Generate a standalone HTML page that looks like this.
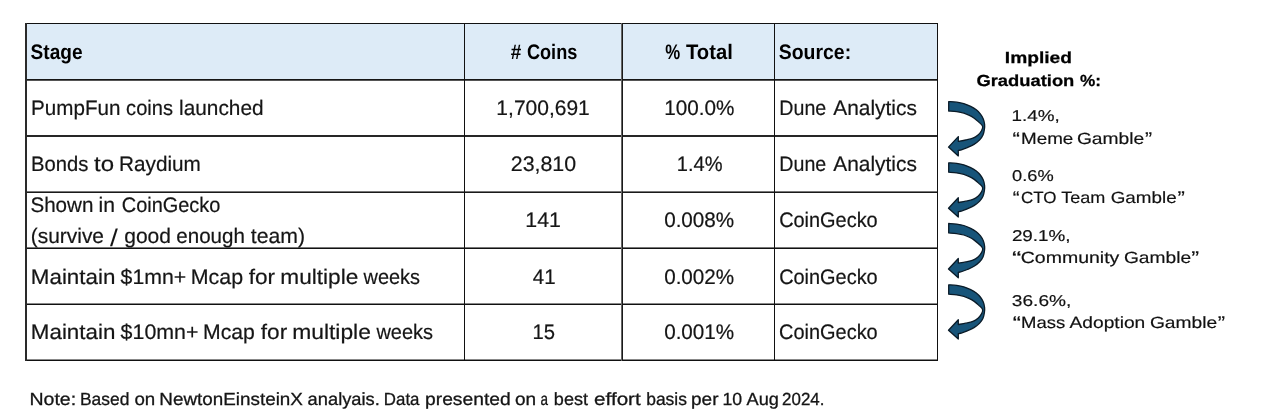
<!DOCTYPE html>
<html>
<head>
<meta charset="utf-8">
<title>PumpFun coin graduation funnel</title>
<style>
html,body{margin:0;padding:0;background:#fff;}
body{width:1268px;height:420px;overflow:hidden;}
svg{display:block;text-rendering:geometricPrecision;}
.t{font-family:"Liberation Sans",sans-serif;font-size:21px;fill:#151515;stroke:#151515;stroke-width:0.2px;}
.b{font-weight:bold;fill:#000;stroke:none;}
.r{font-family:"Liberation Sans",sans-serif;font-size:15.7px;fill:#111;stroke:#111;stroke-width:0.18px;}
.rg{font-size:16.3px;}
.rb{font-size:16px;fill:#000;stroke:#000;stroke-width:0.25px;}
.n{font-family:"Liberation Sans",sans-serif;font-size:17.6px;fill:#151515;stroke:#151515;stroke-width:0.3px;}
</style>
</head>
<body>
<svg width="1268" height="420" viewBox="0 0 1268 420">
<rect x="27" y="24" width="910" height="55" fill="#DDEBF7"/>
<rect x="25" y="23" width="913" height="1" fill="#111"/>
<rect x="25" y="79" width="913" height="1" fill="#151515"/>
<rect x="25" y="80" width="913" height="1" fill="#555"/>
<rect x="25" y="135" width="913" height="2" fill="#262626"/>
<rect x="25" y="191" width="913" height="1" fill="#777"/>
<rect x="25" y="192" width="913" height="1" fill="#1a1a1a"/>
<rect x="25" y="247" width="913" height="1" fill="#777"/>
<rect x="25" y="248" width="913" height="1" fill="#111"/>
<rect x="25" y="303" width="913" height="1" fill="#888"/>
<rect x="25" y="304" width="913" height="1" fill="#111"/>
<rect x="25" y="359" width="913" height="1" fill="#888"/>
<rect x="25" y="360" width="913" height="1" fill="#111"/>
<rect x="25" y="23" width="2" height="338" fill="#2a2a2a"/>
<rect x="464" y="23" width="1" height="338" fill="#111"/>
<rect x="621" y="23" width="1" height="338" fill="#666"/>
<rect x="622" y="23" width="1" height="338" fill="#1a1a1a"/>
<rect x="774" y="23" width="1" height="338" fill="#111"/>
<rect x="937" y="23" width="1" height="338" fill="#111"/>
<text class="t b" id="h1" y="58.5"><tspan x="30.59" textLength="51.96" lengthAdjust="spacingAndGlyphs">Stage</tspan></text>
<text class="t b" id="h2" y="58.5"><tspan x="510.64" textLength="10.55" lengthAdjust="spacingAndGlyphs">#</tspan> <tspan x="526.93" textLength="50.44" lengthAdjust="spacingAndGlyphs">Coins</tspan></text>
<text class="t b" id="h3" y="58.5"><tspan x="665.21" textLength="14.95" lengthAdjust="spacingAndGlyphs">%</tspan> <tspan x="686" textLength="46.78" lengthAdjust="spacingAndGlyphs">Total</tspan></text>
<text class="t b" id="h4" y="58.5"><tspan x="778.81" textLength="72.3" lengthAdjust="spacingAndGlyphs">Source:</tspan></text>
<text class="t" id="a1" y="115.2"><tspan x="31.05" textLength="89.34" lengthAdjust="spacingAndGlyphs">PumpFun</tspan> <tspan x="126.12" textLength="46.85" lengthAdjust="spacingAndGlyphs">coins</tspan> <tspan x="179.07" textLength="84.49" lengthAdjust="spacingAndGlyphs">launched</tspan></text>
<text class="t" id="b1" y="115.2"><tspan x="496.36" textLength="93.46" lengthAdjust="spacingAndGlyphs">1,700,691</tspan></text>
<text class="t" id="c1" y="115.2"><tspan x="664.25" textLength="70.17" lengthAdjust="spacingAndGlyphs">100.0%</tspan></text>
<text class="t" id="d1" y="115.2"><tspan x="779.33" textLength="46.88" lengthAdjust="spacingAndGlyphs">Dune</tspan> <tspan x="833.28" textLength="83.66" lengthAdjust="spacingAndGlyphs">Analytics</tspan></text>
<text class="t" id="a2" y="171.2"><tspan x="31.02" textLength="57.33" lengthAdjust="spacingAndGlyphs">Bonds</tspan> <tspan x="94" textLength="20.02" lengthAdjust="spacingAndGlyphs">to</tspan> <tspan x="119.02" textLength="81.84" lengthAdjust="spacingAndGlyphs">Raydium</tspan></text>
<text class="t" id="b2" y="171.2"><tspan x="510.78" textLength="65.35" lengthAdjust="spacingAndGlyphs">23,810</tspan></text>
<text class="t" id="c2" y="171.2"><tspan x="676.74" textLength="45.74" lengthAdjust="spacingAndGlyphs">1.4%</tspan></text>
<text class="t" id="d2" y="171.2"><tspan x="779.33" textLength="46.88" lengthAdjust="spacingAndGlyphs">Dune</tspan> <tspan x="833.28" textLength="83.66" lengthAdjust="spacingAndGlyphs">Analytics</tspan></text>
<text class="t" id="a3" y="212.4"><tspan x="30.42" textLength="63" lengthAdjust="spacingAndGlyphs">Shown</tspan> <tspan x="98.56" textLength="16.47" lengthAdjust="spacingAndGlyphs">in</tspan> <tspan x="121.79" textLength="98.61" lengthAdjust="spacingAndGlyphs">CoinGecko</tspan></text>
<text class="t" id="a3b" y="242.7"><tspan x="30.83" textLength="73.13" lengthAdjust="spacingAndGlyphs">(survive</tspan> <tspan x="110.11" style="font-size:24px;baseline-shift:-3.2px;stroke-width:0" textLength="7.87" lengthAdjust="spacingAndGlyphs">/</tspan> <tspan x="124.28" textLength="46.71" lengthAdjust="spacingAndGlyphs">good</tspan> <tspan x="176.27" textLength="68.65" lengthAdjust="spacingAndGlyphs">enough</tspan> <tspan x="250.75" textLength="54.23" lengthAdjust="spacingAndGlyphs">team)</tspan></text>
<text class="t" id="b3" y="226.9"><tspan x="525.36" textLength="35.56" lengthAdjust="spacingAndGlyphs">141</tspan></text>
<text class="t" id="c3" y="226.9"><tspan x="664.16" textLength="70.02" lengthAdjust="spacingAndGlyphs">0.008%</tspan></text>
<text class="t" id="d3" y="226.9"><tspan x="779.13" textLength="98.58" lengthAdjust="spacingAndGlyphs">CoinGecko</tspan></text>
<text class="t" id="a4" y="283.8"><tspan x="30.81" textLength="84.6" lengthAdjust="spacingAndGlyphs">Maintain</tspan> <tspan x="120.64" textLength="65.64" lengthAdjust="spacingAndGlyphs">$1mn+</tspan> <tspan x="190.81" textLength="52.31" lengthAdjust="spacingAndGlyphs">Mcap</tspan> <tspan x="248.76" textLength="26.39" lengthAdjust="spacingAndGlyphs">for</tspan> <tspan x="280.29" textLength="77.98" lengthAdjust="spacingAndGlyphs">multiple</tspan> <tspan x="363.51" textLength="56.46" lengthAdjust="spacingAndGlyphs">weeks</tspan></text>
<text class="t" id="b4" y="283.8"><tspan x="532.79" textLength="22.81" lengthAdjust="spacingAndGlyphs">41</tspan></text>
<text class="t" id="c4" y="283.8"><tspan x="664.16" textLength="70.02" lengthAdjust="spacingAndGlyphs">0.002%</tspan></text>
<text class="t" id="d4" y="283.8"><tspan x="779.13" textLength="98.58" lengthAdjust="spacingAndGlyphs">CoinGecko</tspan></text>
<text class="t" id="a5" y="339.2"><tspan x="30.81" textLength="84.59" lengthAdjust="spacingAndGlyphs">Maintain</tspan> <tspan x="120.64" textLength="77.86" lengthAdjust="spacingAndGlyphs">$10mn+</tspan> <tspan x="202.97" textLength="51.87" lengthAdjust="spacingAndGlyphs">Mcap</tspan> <tspan x="260.8" textLength="26.4" lengthAdjust="spacingAndGlyphs">for</tspan> <tspan x="292.2" textLength="78.69" lengthAdjust="spacingAndGlyphs">multiple</tspan> <tspan x="376.41" textLength="56.63" lengthAdjust="spacingAndGlyphs">weeks</tspan></text>
<text class="t" id="b5" y="339.2"><tspan x="532.56" textLength="22.52" lengthAdjust="spacingAndGlyphs">15</tspan></text>
<text class="t" id="c5" y="339.2"><tspan x="664.15" textLength="70.05" lengthAdjust="spacingAndGlyphs">0.001%</tspan></text>
<text class="t" id="d5" y="339.2"><tspan x="779.12" textLength="98.59" lengthAdjust="spacingAndGlyphs">CoinGecko</tspan></text>
<text class="n" id="note" y="405.3"><tspan x="29.49" textLength="46.69" lengthAdjust="spacingAndGlyphs">Note:</tspan> <tspan x="79.99" textLength="49.42" lengthAdjust="spacingAndGlyphs">Based</tspan> <tspan x="134.43" textLength="20.83" lengthAdjust="spacingAndGlyphs">on</tspan> <tspan x="159.32" textLength="143.57" lengthAdjust="spacingAndGlyphs">NewtonEinsteinX</tspan> <tspan x="307.64" textLength="72.17" lengthAdjust="spacingAndGlyphs">analyais.</tspan> <tspan x="383.83" textLength="35.66" lengthAdjust="spacingAndGlyphs">Data</tspan> <tspan x="425.04" textLength="85.62" lengthAdjust="spacingAndGlyphs">presented</tspan> <tspan x="515.02" textLength="21.18" lengthAdjust="spacingAndGlyphs">on</tspan> <tspan x="540.51" textLength="7.5" lengthAdjust="spacingAndGlyphs">a</tspan> <tspan x="553.87" textLength="34.14" lengthAdjust="spacingAndGlyphs">best</tspan> <tspan x="594.1" textLength="46.59" lengthAdjust="spacingAndGlyphs">effort</tspan> <tspan x="646.23" textLength="40.72" lengthAdjust="spacingAndGlyphs">basis</tspan> <tspan x="691.04" textLength="27.48" lengthAdjust="spacingAndGlyphs">per</tspan> <tspan x="722.41" textLength="19.65" lengthAdjust="spacingAndGlyphs">10</tspan> <tspan x="746.56" textLength="32.35" lengthAdjust="spacingAndGlyphs">Aug</tspan> <tspan x="782.1" textLength="42.3" lengthAdjust="spacingAndGlyphs">2024.</tspan></text>
<text class="r b rb" id="imp" y="62.6"><tspan x="1004.89" textLength="67.11" lengthAdjust="spacingAndGlyphs">Implied</tspan></text>
<text class="r b rb" id="grad" y="85.7"><tspan x="976.42" textLength="97.91" lengthAdjust="spacingAndGlyphs">Graduation</tspan> <tspan x="1080" textLength="21.01" lengthAdjust="spacingAndGlyphs">%:</tspan></text>
<text class="r" id="p1" y="121.4"><tspan x="1011.62" textLength="48.2" lengthAdjust="spacingAndGlyphs">1.4%,</tspan></text>
<text class="r rg" id="g1" y="143.5"><tspan x="1012.43" style="font-size:18.5px;baseline-shift:-1.4px" textLength="7.43" lengthAdjust="spacingAndGlyphs">“</tspan><tspan x="1021" textLength="52.28" lengthAdjust="spacingAndGlyphs">Meme</tspan> <tspan x="1076.91" textLength="67.39" lengthAdjust="spacingAndGlyphs">Gamble</tspan><tspan x="1144.9" style="font-size:18.5px;baseline-shift:-1.4px" textLength="7.12" lengthAdjust="spacingAndGlyphs">”</tspan></text>
<text class="r" id="p2" y="180.8"><tspan x="1012.07" textLength="41.61" lengthAdjust="spacingAndGlyphs">0.6%</tspan></text>
<text class="r rg" id="g2" y="203.4"><tspan x="1012.81" style="font-size:18.5px;baseline-shift:-1.4px" textLength="6.83" lengthAdjust="spacingAndGlyphs">“</tspan><tspan x="1020.94" textLength="35.51" lengthAdjust="spacingAndGlyphs">CTO</tspan> <tspan x="1061.28" textLength="44.12" lengthAdjust="spacingAndGlyphs">Team</tspan> <tspan x="1110.72" textLength="65.89" lengthAdjust="spacingAndGlyphs">Gamble</tspan><tspan x="1177.62" style="font-size:18.5px;baseline-shift:-1.4px" textLength="7.38" lengthAdjust="spacingAndGlyphs">”</tspan></text>
<text class="r" id="p3" y="240.8"><tspan x="1011.9" textLength="58.65" lengthAdjust="spacingAndGlyphs">29.1%,</tspan></text>
<text class="r rg" id="g3" y="263.2"><tspan x="1012.1" style="font-size:18.5px;baseline-shift:-1.4px" textLength="9.35" lengthAdjust="spacingAndGlyphs">“</tspan><tspan x="1020.7" textLength="98.68" lengthAdjust="spacingAndGlyphs">Community</tspan> <tspan x="1123.93" textLength="67.15" lengthAdjust="spacingAndGlyphs">Gamble</tspan><tspan x="1191.2" style="font-size:18.5px;baseline-shift:-1.4px" textLength="7.87" lengthAdjust="spacingAndGlyphs">”</tspan></text>
<text class="r" id="p4" y="305.6"><tspan x="1011.86" textLength="59.43" lengthAdjust="spacingAndGlyphs">36.6%,</tspan></text>
<text class="r rg" id="g4" y="328.3"><tspan x="1012.76" style="font-size:18.5px;baseline-shift:-1.4px" textLength="8.19" lengthAdjust="spacingAndGlyphs">“</tspan><tspan x="1021" textLength="44.18" lengthAdjust="spacingAndGlyphs">Mass</tspan> <tspan x="1069.49" textLength="75.77" lengthAdjust="spacingAndGlyphs">Adoption</tspan> <tspan x="1149.93" textLength="67.27" lengthAdjust="spacingAndGlyphs">Gamble</tspan><tspan x="1217.65" style="font-size:18.5px;baseline-shift:-1.4px" textLength="7.32" lengthAdjust="spacingAndGlyphs">”</tspan></text>
<g fill="#175479" stroke="#0a1b28" stroke-width="1.3" stroke-linejoin="round">
<path d="M948.70,101.60 C950.03,101.70 954.18,101.87 956.70,102.20 C959.22,102.53 961.47,102.89 963.80,103.60 C966.13,104.31 968.62,105.41 970.70,106.45 C972.78,107.49 974.67,108.58 976.30,109.85 C977.93,111.12 979.33,112.54 980.50,114.05 C981.67,115.56 982.62,117.18 983.30,118.90 C983.98,120.62 984.42,122.65 984.60,124.40 C984.78,126.15 984.67,127.63 984.40,129.40 C984.13,131.17 983.78,133.25 983.00,135.00 C982.22,136.75 981.20,138.33 979.70,139.90 C978.20,141.47 976.07,143.12 974.00,144.40 C971.93,145.68 969.30,146.73 967.30,147.60 C965.30,148.47 963.50,149.12 962.00,149.60 C960.50,150.08 958.92,150.35 958.30,150.50 L958.3,155.9 L948.5,147.1 L958.3,136.6 L958.30,141.30 C959.55,141.08 963.37,140.52 965.80,140.00 C968.23,139.48 970.87,139.03 972.90,138.20 C974.93,137.37 976.57,136.25 978.00,135.00 C979.43,133.75 980.73,132.15 981.50,130.70 C982.27,129.25 983.08,127.77 982.60,126.30 C982.12,124.83 980.00,123.25 978.60,121.90 C977.20,120.55 975.73,119.29 974.20,118.20 C972.67,117.11 971.13,116.20 969.40,115.35 C967.67,114.50 965.92,113.71 963.80,113.10 C961.68,112.49 959.22,112.05 956.70,111.70 C954.18,111.35 950.03,111.12 948.70,111.00 Z"/>
<path transform="translate(0,61.2)" d="M948.70,101.60 C950.03,101.70 954.18,101.87 956.70,102.20 C959.22,102.53 961.47,102.89 963.80,103.60 C966.13,104.31 968.62,105.41 970.70,106.45 C972.78,107.49 974.67,108.58 976.30,109.85 C977.93,111.12 979.33,112.54 980.50,114.05 C981.67,115.56 982.62,117.18 983.30,118.90 C983.98,120.62 984.42,122.65 984.60,124.40 C984.78,126.15 984.67,127.63 984.40,129.40 C984.13,131.17 983.78,133.25 983.00,135.00 C982.22,136.75 981.20,138.33 979.70,139.90 C978.20,141.47 976.07,143.12 974.00,144.40 C971.93,145.68 969.30,146.73 967.30,147.60 C965.30,148.47 963.50,149.12 962.00,149.60 C960.50,150.08 958.92,150.35 958.30,150.50 L958.3,155.9 L948.5,147.1 L958.3,136.6 L958.30,141.30 C959.55,141.08 963.37,140.52 965.80,140.00 C968.23,139.48 970.87,139.03 972.90,138.20 C974.93,137.37 976.57,136.25 978.00,135.00 C979.43,133.75 980.73,132.15 981.50,130.70 C982.27,129.25 983.08,127.77 982.60,126.30 C982.12,124.83 980.00,123.25 978.60,121.90 C977.20,120.55 975.73,119.29 974.20,118.20 C972.67,117.11 971.13,116.20 969.40,115.35 C967.67,114.50 965.92,113.71 963.80,113.10 C961.68,112.49 959.22,112.05 956.70,111.70 C954.18,111.35 950.03,111.12 948.70,111.00 Z"/>
<path transform="translate(0,121.9)" d="M948.70,101.60 C950.03,101.70 954.18,101.87 956.70,102.20 C959.22,102.53 961.47,102.89 963.80,103.60 C966.13,104.31 968.62,105.41 970.70,106.45 C972.78,107.49 974.67,108.58 976.30,109.85 C977.93,111.12 979.33,112.54 980.50,114.05 C981.67,115.56 982.62,117.18 983.30,118.90 C983.98,120.62 984.42,122.65 984.60,124.40 C984.78,126.15 984.67,127.63 984.40,129.40 C984.13,131.17 983.78,133.25 983.00,135.00 C982.22,136.75 981.20,138.33 979.70,139.90 C978.20,141.47 976.07,143.12 974.00,144.40 C971.93,145.68 969.30,146.73 967.30,147.60 C965.30,148.47 963.50,149.12 962.00,149.60 C960.50,150.08 958.92,150.35 958.30,150.50 L958.3,155.9 L948.5,147.1 L958.3,136.6 L958.30,141.30 C959.55,141.08 963.37,140.52 965.80,140.00 C968.23,139.48 970.87,139.03 972.90,138.20 C974.93,137.37 976.57,136.25 978.00,135.00 C979.43,133.75 980.73,132.15 981.50,130.70 C982.27,129.25 983.08,127.77 982.60,126.30 C982.12,124.83 980.00,123.25 978.60,121.90 C977.20,120.55 975.73,119.29 974.20,118.20 C972.67,117.11 971.13,116.20 969.40,115.35 C967.67,114.50 965.92,113.71 963.80,113.10 C961.68,112.49 959.22,112.05 956.70,111.70 C954.18,111.35 950.03,111.12 948.70,111.00 Z"/>
<path transform="translate(0,183.2)" d="M948.70,101.60 C950.03,101.70 954.18,101.87 956.70,102.20 C959.22,102.53 961.47,102.89 963.80,103.60 C966.13,104.31 968.62,105.41 970.70,106.45 C972.78,107.49 974.67,108.58 976.30,109.85 C977.93,111.12 979.33,112.54 980.50,114.05 C981.67,115.56 982.62,117.18 983.30,118.90 C983.98,120.62 984.42,122.65 984.60,124.40 C984.78,126.15 984.67,127.63 984.40,129.40 C984.13,131.17 983.78,133.25 983.00,135.00 C982.22,136.75 981.20,138.33 979.70,139.90 C978.20,141.47 976.07,143.12 974.00,144.40 C971.93,145.68 969.30,146.73 967.30,147.60 C965.30,148.47 963.50,149.12 962.00,149.60 C960.50,150.08 958.92,150.35 958.30,150.50 L958.3,155.9 L948.5,147.1 L958.3,136.6 L958.30,141.30 C959.55,141.08 963.37,140.52 965.80,140.00 C968.23,139.48 970.87,139.03 972.90,138.20 C974.93,137.37 976.57,136.25 978.00,135.00 C979.43,133.75 980.73,132.15 981.50,130.70 C982.27,129.25 983.08,127.77 982.60,126.30 C982.12,124.83 980.00,123.25 978.60,121.90 C977.20,120.55 975.73,119.29 974.20,118.20 C972.67,117.11 971.13,116.20 969.40,115.35 C967.67,114.50 965.92,113.71 963.80,113.10 C961.68,112.49 959.22,112.05 956.70,111.70 C954.18,111.35 950.03,111.12 948.70,111.00 Z"/>
</g>
</svg>
</body>
</html>
